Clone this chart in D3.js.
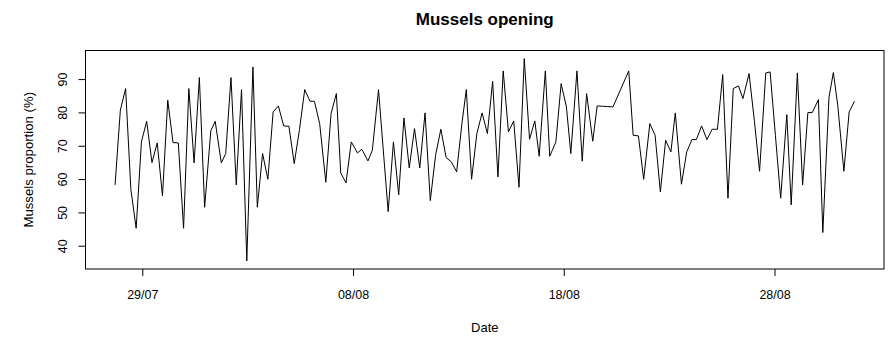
<!DOCTYPE html>
<html><head><meta charset="utf-8">
<script src="https://cdn.jsdelivr.net/npm/d3@7"></script>
<style>body{margin:0;background:#fff} svg text{font-family:Arial,"Liberation Sans",sans-serif;fill:#000}</style>
</head><body><svg id="c" width="892" height="338"></svg>
<script>
const times = [
"27/07 17:00","27/07 23:00","28/07 05:00","28/07 11:00","28/07 17:00","28/07 23:00",
"29/07 05:00","29/07 11:00","29/07 17:00","29/07 23:00",
"30/07 05:00","30/07 11:00","30/07 17:00","30/07 23:00",
"31/07 05:00","31/07 11:00","31/07 17:00","31/07 23:00",
"01/08 06:00","01/08 11:00","01/08 18:00","01/08 23:00",
"02/08 05:00","02/08 11:00","02/08 17:00","02/08 23:00",
"03/08 06:00","03/08 11:00","03/08 17:00","03/08 23:00",
"04/08 05:00","04/08 11:00","04/08 17:00","04/08 23:00",
"05/08 05:00","05/08 11:00","05/08 17:00","05/08 23:00",
"06/08 04:00","06/08 10:00","06/08 17:00","06/08 23:00",
"07/08 05:00","07/08 10:00","07/08 16:00","07/08 22:00",
"08/08 05:00","08/08 10:00","08/08 17:00","08/08 22:00",
"09/08 05:00","09/08 10:00","09/08 16:00","09/08 22:00",
"10/08 04:00","10/08 10:00","10/08 16:00","10/08 22:00",
"11/08 04:00","11/08 10:00","11/08 16:00","11/08 22:00",
"12/08 04:00","12/08 10:00","12/08 16:00","12/08 22:00",
"13/08 04:00","13/08 09:00","13/08 15:00","13/08 21:00",
"14/08 03:00","14/08 09:00","14/08 15:00","14/08 21:00",
"15/08 03:00","15/08 09:00","15/08 15:00","15/08 21:00",
"16/08 03:00","16/08 09:00","16/08 15:00","16/08 20:00",
"17/08 03:00","17/08 08:00","17/08 15:00","17/08 21:00",
"18/08 03:00","18/08 08:00","18/08 15:00","18/08 21:00",
"19/08 02:00","19/08 09:00","19/08 14:00","19/08 20:00",
"20/08 02:00","20/08 08:00",
"21/08 02:00","21/08 07:00","21/08 13:00","21/08 19:00",
"22/08 02:00","22/08 08:00","22/08 14:00","22/08 20:00",
"23/08 02:00","23/08 07:00","23/08 14:00","23/08 20:00",
"24/08 02:00","24/08 07:00","24/08 13:00","24/08 19:00",
"25/08 01:00","25/08 07:00","25/08 13:00","25/08 19:00",
"26/08 01:00","26/08 07:00","26/08 12:00","26/08 19:00",
"27/08 01:00","27/08 07:00","27/08 14:00","27/08 19:00",
"28/08 01:00","28/08 07:00","28/08 14:00","28/08 19:00",
"29/08 02:00","29/08 08:00","29/08 14:00","29/08 19:00",
"30/08 02:00","30/08 07:00","30/08 14:00","30/08 19:00",
"31/08 00:00","31/08 07:00","31/08 13:00","31/08 19:00"
];
const proportion = [
58.4,80.8,87.3,57,45.4,71.3,
77.5,65.1,71,55.1,
83.8,71.1,71,45.4,
87.3,65,90.6,51.7,
74.6,77.5,65,67.8,
90.6,58.4,87,35.6,
93.8,51.7,67.8,60.1,
80.3,82.1,76.1,76,
64.8,75,87,83.5,
83.5,76.8,59.2,79.8,
85.8,62,59,71.3,
68,69.1,65.6,68.8,
87,70.3,50.4,71.3,
55.4,78.5,63.5,75.3,
63.5,80,53.7,67.3,
75.1,66.6,65.3,62.3,
76.8,87,60.1,73.8,
80,73.8,89.5,60.8,
92.6,74.3,77.6,57.7,
96.3,72.1,77.6,67,
92.6,67,71.3,88.8,
81.8,67.8,92.6,65.5,
85.8,71.5,82.1,82,
81.9,81.8,
92.6,73.3,73.1,60.1,
76.8,73.3,56.3,71.8,
68.3,80,58.6,68.3,
72,72,76.1,72,
75.1,75.1,91.5,54.4,
87.3,88.1,84.3,91.8,
77.8,62.5,92,92.3,
73.3,54.4,79.5,52.4,
92,58.4,80.1,80.1,
84,44.1,84.6,92.1,
82.3,62.5,80.3,83.5
];
const xTickLabels = ["29/07","08/08","18/08","28/08"];
const yTickValues = [40,50,60,70,80,90];
const chartTitle = "Mussels opening";
const xTitle = "Date";
const yTitle = "Mussels proportion (%)";

const parse = d3.timeParse("%d/%m %H:%M");
const data = times.map((t,i)=>({t:parse(t), v:proportion[i]}));
const box = {l:85.5, r:884, t:50.5, b:269};
function pad(e){const d=(e[1]-e[0])*0.04; return [e[0]-d, e[1]+d];}
const xe = pad(d3.extent(data, d=>+d.t));
const x = d3.scaleTime().domain([new Date(xe[0]), new Date(xe[1])]).range([box.l, box.r]);
const y = d3.scaleLinear().domain(pad(d3.extent(data, d=>d.v))).range([box.b, box.t]);

const svg = d3.select("#c");
svg.append("rect").attr("width",892).attr("height",338).attr("fill","#fff");

svg.append("path").datum(data)
  .attr("fill","none").attr("stroke","#000").attr("stroke-width",1)
  .attr("d", d3.line().x(d=>x(d.t)).y(d=>y(d.v)));

svg.append("rect").attr("x",box.l).attr("y",box.t)
  .attr("width",box.r-box.l).attr("height",box.b-box.t)
  .attr("fill","none").attr("stroke","#000").attr("stroke-width",1);

const xAxis = d3.axisBottom(x)
  .tickValues(xTickLabels.map(s=>parse(s+" 00:00")))
  .tickFormat(d3.timeFormat("%d/%m")).tickSize(7).tickPadding(14);
const gx = svg.append("g").attr("transform",`translate(0,${box.b})`).call(xAxis);
gx.select(".domain").remove();
gx.selectAll("text").attr("font-size",12.5).attr("font-family",null);
gx.selectAll("line").attr("stroke","#000");

const yAxis = d3.axisLeft(y).tickValues(yTickValues).tickSize(7).tickFormat(d3.format("d"));
const gy = svg.append("g").attr("transform",`translate(${box.l},0)`).call(yAxis);
gy.select(".domain").remove();
gy.selectAll("line").attr("stroke","#000");
gy.selectAll("text")
  .attr("font-size",12.5).attr("font-family",null)
  .attr("x",null).attr("dy",null)
  .attr("text-anchor","middle")
  .attr("transform",d=>`translate(-19,${y(d)}) rotate(-90)`)
  .attr("y",0);
gy.selectAll(".tick").attr("transform",null);
gy.selectAll(".tick line").attr("y1",d=>y(d)).attr("y2",d=>y(d));

svg.append("text").attr("x",(box.l+box.r)/2).attr("y",24.5)
  .attr("text-anchor","middle").attr("font-weight","bold").attr("font-size",17)
  .text(chartTitle);
svg.append("text").attr("x",(box.l+box.r)/2).attr("y",332)
  .attr("text-anchor","middle").attr("font-size",13).text(xTitle);
svg.append("text").attr("transform",`translate(33,${(box.t+box.b)/2}) rotate(-90)`)
  .attr("text-anchor","middle").attr("font-size",13.2).text(yTitle);
</script></body></html>
